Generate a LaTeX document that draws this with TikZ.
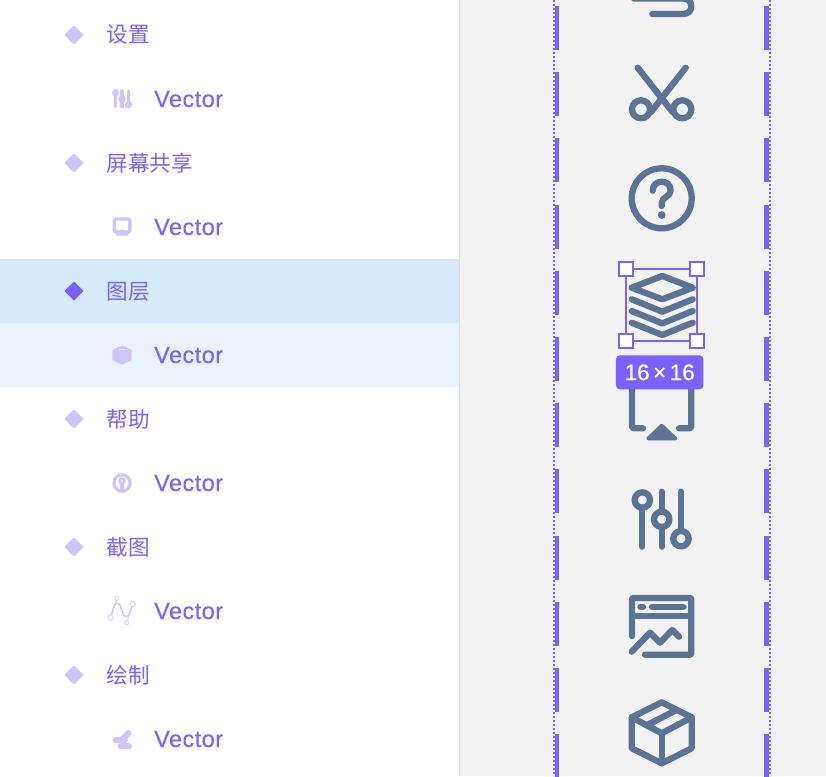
\documentclass[tikz,border=0pt]{standalone}
\usepackage{fontspec}
\setmainfont{Liberation Sans}
\newfontfamily\cjkfont{Noto Sans CJK SC}
\newfontfamily\vecfont[LetterSpace=1.9,FakeBold=0.1]{Liberation Sans}
\newfontfamily\sizefont[FakeBold=0.25]{Liberation Sans}
\definecolor{brandpurple}{HTML}{7B61FF}
\definecolor{lightpurple}{HTML}{CFC4FF}
\definecolor{palepurple}{HTML}{DDD6FF}
\definecolor{slateicon}{HTML}{5B7395}
\definecolor{panelgrey}{HTML}{F2F2F2}
\definecolor{rowselect}{HTML}{D6EBF9}
\definecolor{rowsub}{HTML}{EAF3FB}
\definecolor{divider}{HTML}{DDDDDD}
\tikzset{
  x=1pt,y=-1pt,
  cjklabel/.style={anchor=base west,inner sep=0pt,text=brandpurple,font=\cjkfont\fontsize{21.6}{26}\selectfont},
  veclabel/.style={anchor=base west,inner sep=0pt,text=brandpurple,font=\vecfont\fontsize{23.5}{26}\selectfont},
  bigicon/.style={draw=slateicon,line width=6.3pt,line cap=round,line join=round},
  smallicon/.style={draw=lightpurple,line cap=round,line join=round},
  handlebox/.style={draw=brandpurple,fill=white,line width=2.2pt},
  dot diamond/.style={fill=lightpurple,draw=lightpurple,line width=1.2pt,line join=round},
}
\begin{document}
\begin{tikzpicture}
\useasboundingbox (0,0) rectangle (826,776);
\clip (0,0) rectangle (826,776);
\fill[white] (0,0) rectangle (459,776);
\fill[rowselect] (0,259) rectangle (459,323);
\fill[rowsub] (0,323) rectangle (459,387);
\fill[panelgrey] (459,0) rectangle (826,776);
\fill[divider] (459,0) rectangle (460,776);

% guide dashes
\foreach \k in {0,...,11}{
  \pgfmathsetmacro{\ya}{6+66.2*\k}
  \pgfmathsetmacro{\yb}{\ya+44}
  \fill[brandpurple] (555,\ya) rectangle (559.3,\yb);
  \fill[brandpurple] (764,\ya) rectangle (769,\yb);
}
\draw[brandpurple,line width=2pt,dash pattern=on 2pt off 2pt] (554,0) -- (554,776);
\draw[brandpurple,line width=2pt,dash pattern=on 2pt off 2pt] (769.5,0) -- (769.5,776);

% tree rows
\foreach \yy/\nm/\tx in {35/a/设置,163/b/屏幕共享,419/d/帮助,547/e/截图,675/f/绘制}{
  \fill[dot diamond] (74,\yy-8.8) -- (82.8,\yy) -- (74,\yy+8.8) -- (65.2,\yy) -- cycle;
  \node[cjklabel] (title\nm) at (106.5,\yy+8) {\tx};
}
\fill[brandpurple,draw=brandpurple,line width=1.2pt,line join=round] (74,282.2) -- (82.8,291) -- (74,299.8) -- (65.2,291) -- cycle;
\node[cjklabel] (titlec) at (106.5,299) {图层};
\foreach \yy/\nm in {99/a,227/b,355/c,483/d,611/e,739/f}{
  \node[veclabel] (vec\nm) at (154,\yy+8) {Vector};
}

% small icon: sliders
\draw[smallicon,line width=3.6pt] (115.5,94) -- (115.5,106.5);
\draw[smallicon,line width=3.6pt] (122,91) -- (122,106.5);
\draw[smallicon,line width=3.6pt] (128.5,91) -- (128.5,104);
\fill[lightpurple] (115.5,92.8) circle (3.6);
\fill[lightpurple] (122,99) circle (3.6);
\fill[lightpurple] (128.5,104.8) circle (3.6);
% small icon: screen
\draw[smallicon,line width=3.4pt,fill=white,rounded corners=2pt] (114.2,219) rectangle (129.8,232);
\fill[lightpurple,draw=lightpurple,line width=1.4pt,line join=round] (122,227.5) -- (127.5,235) -- (116.5,235) -- cycle;
\fill[white] (122,225.5) -- (125.5,230) -- (118.5,230) -- cycle;
\fill[lightpurple,draw=lightpurple,line width=1pt,line join=round] (122,229.5) -- (124,232) -- (120,232) -- cycle;
% small icon: box
\fill[lightpurple] (122,345.3) -- (131.7,350) -- (131.7,360) -- (122,364.7) -- (112.3,360) -- (112.3,350) -- cycle;
\draw[rowsub,line width=1pt,line cap=round] (119.5,349.5) -- (124.5,349.5);
% small icon: help
\fill[lightpurple] (122,483) circle (9.8);
\fill[white] (122,483) circle (6.4);
\fill[lightpurple] (122,481) circle (3.8);
\fill[lightpurple] (120.2,481) rectangle (123.8,490);
\fill[white] (122,481) circle (1.1);
% small icon: bezier curve
\draw[palepurple,line width=1pt] (110.7,617.7) -- (116.7,598.3);
\draw[palepurple,line width=1pt] (132.7,604) -- (126.7,622.7);
\draw[lightpurple,line width=1.4pt] (110.7,617.7) .. controls (114.5,600) and (119,600) .. (121.5,609) .. controls (124,619) and (128.5,621) .. (132.7,604);
\draw[palepurple,line width=1.1pt,fill=white] (116.7,598.3) circle (2);
\draw[palepurple,line width=1.1pt,fill=white] (126.7,622.7) circle (2);
\draw[palepurple,line width=1.1pt,fill=white] (110.7,617.7) circle (2.7);
\draw[palepurple,line width=1.1pt,fill=white] (132.7,604) circle (2.7);
% small icon: draw
\draw[smallicon,line width=6pt] (121.5,740) -- (128.5,733);
\draw[smallicon,line width=6pt] (115.5,740) -- (125,740);
\draw[smallicon,line width=6pt] (120.5,746) -- (129,746);

% big icon: hook
\draw[bigicon] (634,-1.4) -- (683.3,-1.4) .. controls (694,-1.4) and (694,14) .. (683.3,14) -- (652.3,14);
% big icon: scissors
\draw[bigicon] (637.7,67.7) -- (672.5,112);
\draw[bigicon] (685.7,67.7) -- (651,112);
\draw[bigicon] (641,109.3) circle (9);
\draw[bigicon] (682.3,109.3) circle (9);
% big icon: question
\draw[bigicon] (661.7,198.3) circle (30);
\draw[bigicon] (652.7,190.7) .. controls (652.7,178.7) and (670.7,178.7) .. (670.7,190.7) .. controls (670.7,196.5) and (661.7,197) .. (661.7,203) -- (661.7,206);
\fill[slateicon] (661.7,215) circle (3.9);
% big icon: layers
\draw[bigicon] (631.7,287.7) -- (662.3,276) -- (692.7,287.7) -- (662.3,299.3) -- cycle;
\draw[bigicon] (631.7,299.3) -- (662.3,311.7) -- (692.7,299.3);
\draw[bigicon] (631.7,311) -- (662.3,323.4) -- (692.7,311);
\draw[bigicon] (631.7,322.7) -- (662.3,335) -- (692.7,322.7);
% selection frame
\draw[brandpurple,line width=2.2pt] (626,269.3) rectangle (697.3,341);
\draw[handlebox] (619,262.3) rectangle (633,276.3);
\draw[handlebox] (690.3,262.3) rectangle (704.3,276.3);
\draw[handlebox] (619,334) rectangle (633,348);
\draw[handlebox] (690.3,334) rectangle (704.3,348);
% big icon: screen share
\draw[bigicon,rounded corners=2pt] (632,385) -- (632,428.3) -- (643,428.3);
\draw[bigicon,rounded corners=2pt] (691.3,385) -- (691.3,428.3) -- (679,428.3);
\fill[slateicon,draw=slateicon,line width=3.5pt,line join=round] (661.7,425.5) -- (675.5,438.5) -- (648,438.5) -- cycle;
% size label
\node[fill=brandpurple,text=white,rounded corners=4pt,inner sep=0pt,minimum width=87.5pt,minimum height=34pt,font=\sizefont\fontsize{22.5}{26}\selectfont] (sizelabel) at (659.7,372.3) {16\hspace{3.5pt}×\hspace{3.5pt}16};
% big icon: sliders
\draw[bigicon] (642.3,508) -- (642.3,546.7);
\draw[bigicon] (661.7,491.7) -- (661.7,546.7);
\draw[bigicon] (681,491.7) -- (681,531);
\draw[bigicon,fill=panelgrey] (642.3,500) circle (7.7);
\draw[bigicon,fill=panelgrey] (661.7,519.3) circle (7.7);
\draw[bigicon,fill=panelgrey] (681,538.7) circle (7.7);
% big icon: chart window
\draw[bigicon,rounded corners=1pt] (632,636) -- (632,598) -- (691.3,598) -- (691.3,654.7) -- (645,654.7);
\draw[bigicon,line cap=butt] (632,616) -- (691.3,616);
\draw[bigicon] (640.5,607) -- (643,607);
\draw[bigicon] (652,607) -- (683.5,607);
\draw[bigicon] (631.7,651.7) -- (650,632.7) -- (660,642.7) -- (672.3,630) -- (679,636.7);
% big icon: package
\draw[bigicon] (661.7,702.3) -- (691.7,717.3) -- (691.7,748.3) -- (661.7,763.3) -- (631.7,748.3) -- (631.7,717.3) -- cycle;
\draw[bigicon] (631.7,717.3) -- (661.7,733.3) -- (691.7,717.3);
\draw[bigicon] (661.7,733.3) -- (661.7,763.3);
\draw[bigicon,line cap=butt] (646.7,725.3) -- (676.7,709.8);
\end{tikzpicture}
\end{document}
